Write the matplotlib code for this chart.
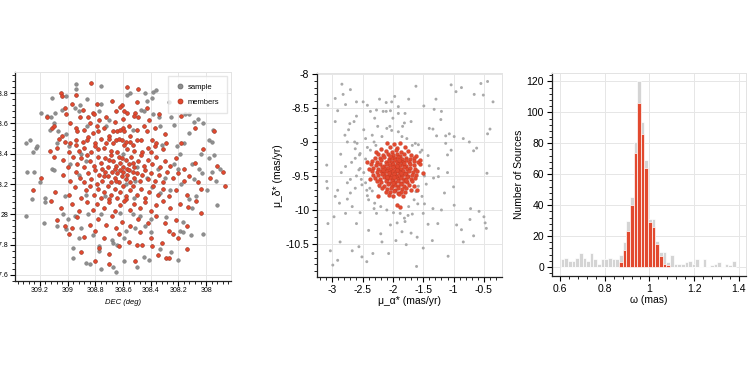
import numpy as np
import matplotlib
matplotlib.use("Agg")
import matplotlib.pyplot as plt
from matplotlib.ticker import AutoMinorLocator, FuncFormatter, MultipleLocator
from matplotlib.lines import Line2D

# ---------------- Panel 1: sky positions ----------------
members_pos = [
    (308.83,28.87),(308.57,28.84),(308.49,28.83),(309.05,28.80),(309.04,28.78),(308.94,28.79),
    (308.97,28.73),(308.79,28.73),(308.68,28.75),(308.61,28.72),(308.62,28.71),(308.50,28.74),(309.02,28.70),(308.89,28.69),(308.65,28.68),(308.59,28.68),(308.43,28.70),
    (308.82,28.67),(308.81,28.66),(308.57,28.67),(308.51,28.67),(309.15,28.64),(309.01,28.66),(308.91,28.64),(308.85,28.64),(308.77,28.62),(308.72,28.64),(308.66,28.61),(308.52,28.65),(308.49,28.64),(308.34,28.66),(308.18,28.65),(308.60,28.63),(308.41,28.62),
    (309.11,28.57),(309.10,28.58),(308.98,28.60),(309.04,28.52),(308.94,28.57),(308.93,28.55),(308.88,28.56),(308.84,28.60),(308.82,28.54),(308.79,28.58),(308.78,28.55),(308.74,28.57),(308.67,28.55),(308.64,28.55),(308.62,28.56),(308.60,28.57),(308.59,28.55),(308.56,28.58),(308.50,28.56),(308.45,28.58),(308.43,28.55),(308.37,28.57),(308.08,28.57),(307.94,28.55),(308.70,28.52),(308.55,28.52),(308.30,28.53),(308.85,28.51),
    (309.06,28.50),(309.08,28.44),(309.02,28.48),(308.98,28.47),(308.94,28.49),(308.94,28.46),(308.89,28.48),(308.86,28.49),(308.88,28.44),(308.80,28.47),(308.76,28.50),(308.72,28.47),(308.70,28.50),(308.67,28.47),(308.65,28.49),(308.63,28.50),(308.61,28.49),(308.59,28.46),(308.55,28.48),(308.53,28.46),(308.50,28.49),(308.47,28.49),(308.42,28.44),(308.39,28.49),(308.37,28.45),(308.36,28.47),(308.31,28.43),(308.29,28.47),(308.18,28.47),(309.13,28.42),(308.99,28.41),(308.92,28.42),(308.83,28.41),(308.78,28.43),(308.74,28.44),(308.69,28.42),(308.64,28.41),(308.57,28.43),(308.52,28.42),(308.46,28.41),(308.40,28.41),(308.02,28.43),(308.80,28.45),(308.58,28.48),
    (309.10,28.38),(309.03,28.36),(308.96,28.38),(308.93,28.33),(308.90,28.37),(308.86,28.39),(308.84,28.35),(308.81,28.32),(308.78,28.38),(308.76,28.34),(308.73,28.37),(308.71,28.31),(308.69,28.39),(308.67,28.35),(308.65,28.32),(308.63,28.38),(308.62,28.34),(308.60,28.31),(308.58,28.36),(308.56,28.33),(308.54,28.38),(308.52,28.31),(308.49,28.35),(308.47,28.39),(308.45,28.32),(308.42,28.36),(308.39,28.33),(308.36,28.38),(308.33,28.31),(308.30,28.35),(308.26,28.32),(308.22,28.37),(308.16,28.30),(308.08,28.34),(307.92,28.32),(309.00,28.31),(308.88,28.31),(308.75,28.30),(308.66,28.30),(308.57,28.30),(308.70,28.36),(308.61,28.37),(308.53,28.34),
    (309.19,28.24),(309.03,28.26),(308.98,28.22),(308.94,28.28),(308.91,28.24),(308.88,28.21),(308.85,28.27),(308.83,28.23),(308.80,28.29),(308.79,28.20),(308.77,28.26),(308.75,28.22),(308.73,28.28),(308.71,28.25),(308.69,28.21),(308.68,28.28),(308.66,28.24),(308.64,28.27),(308.63,28.21),(308.61,28.25),(308.60,28.28),(308.58,28.23),(308.57,28.26),(308.55,28.21),(308.53,28.28),(308.52,28.24),(308.50,28.27),(308.48,28.22),(308.46,28.26),(308.44,28.29),(308.42,28.23),(308.40,28.27),(308.37,28.22),(308.34,28.26),(308.31,28.21),(308.28,28.28),(308.24,28.24),(308.20,28.27),(308.16,28.22),(308.12,28.25),(308.06,28.21),(307.97,28.24),(307.88,28.28),(308.62,28.29),(308.56,28.29),(308.65,28.22),(308.74,28.25),
    (309.25,28.16),(309.09,28.15),(308.99,28.13),(308.95,28.18),(308.90,28.11),(308.87,28.16),(308.84,28.19),(308.81,28.13),(308.78,28.17),(308.76,28.11),(308.74,28.15),(308.71,28.19),(308.69,28.13),(308.66,28.17),(308.64,28.11),(308.62,28.15),(308.60,28.19),(308.58,28.12),(308.55,28.16),(308.53,28.19),(308.50,28.13),(308.47,28.17),(308.44,28.11),(308.41,28.15),(308.38,28.19),(308.35,28.13),(308.31,28.17),(308.27,28.12),(308.22,28.16),(308.14,28.13),(308.04,28.17),(307.86,28.19),(308.70,28.10),(308.58,28.10),
    (309.12,28.09),(309.05,28.04),(308.97,28.07),(308.92,28.02),(308.86,28.08),(308.82,28.03),(308.79,28.07),(308.74,28.04),(308.70,28.08),(308.66,28.02),(308.62,28.06),(308.59,28.09),(308.55,28.03),(308.52,28.07),(308.48,28.04),(308.44,28.08),(308.40,28.02),(308.36,28.06),(308.31,28.09),(308.26,28.04),(308.19,28.07),(308.13,28.05),(308.04,28.01),(308.07,28.09),
    (309.08,27.96),(309.02,27.92),(308.93,27.98),(308.84,27.93),(308.78,27.97),(308.72,27.93),(308.68,27.99),(308.61,27.95),(308.55,27.92),(308.49,27.97),(308.42,27.94),(308.36,27.99),(308.30,27.94),(308.22,27.96),(308.14,27.92),(308.97,27.91),(308.65,27.91),
    (308.99,27.87),(308.88,27.85),(308.80,27.89),(308.74,27.84),(308.63,27.87),(308.56,27.82),(308.48,27.88),(308.40,27.84),(308.27,27.89),(308.24,27.87),(308.20,27.84),(308.32,27.81),
    (308.77,27.78),(308.63,27.79),(308.50,27.80),(308.46,27.80),(308.39,27.79),(308.14,27.77),(308.35,27.73),(308.90,27.75),(308.70,27.74),
    (308.80,27.69),(308.70,27.67),(308.51,27.69),(308.29,27.71),(308.27,27.71),
]
field_pos = [
    (308.94,28.86),(308.94,28.83),(308.76,28.85),(308.55,28.80),(308.57,28.79),(308.44,28.80),(308.38,28.81),(308.36,28.82),(308.39,28.77),(309.11,28.77),(309.01,28.78),(308.86,28.76),(308.91,28.72),(308.76,28.73),(308.43,28.75),(308.27,28.74),(309.04,28.69),(308.95,28.70),(308.92,28.68),(308.77,28.68),(308.47,28.69),(308.45,28.68),(309.19,28.67),(309.15,28.65),(309.12,28.64),(309.09,28.67),(308.70,28.62),(308.38,28.66),(308.34,28.64),(308.25,28.64),(308.15,28.66),(308.12,28.66),(308.09,28.61),(308.06,28.63),
    (309.10,28.60),(309.13,28.56),(309.07,28.55),(309.01,28.53),(308.86,28.58),(308.72,28.58),(308.53,28.56),(308.33,28.58),(308.23,28.59),(308.02,28.60),(308.12,28.54),(307.95,28.56),(307.98,28.49),(307.96,28.48),
    (309.30,28.47),(309.27,28.49),(309.25,28.41),(309.23,28.44),(309.22,28.45),(309.08,28.47),(308.99,28.45),(308.32,28.46),(308.21,28.45),(308.16,28.47),(308.19,28.40),(308.04,28.40),(307.94,28.39),(308.90,28.40),(308.60,28.40),
    (309.29,28.28),(309.24,28.28),(309.11,28.30),(309.10,28.29),(308.98,28.33),(308.87,28.35),(308.50,28.31),(308.35,28.30),(308.23,28.33),(308.20,28.30),(308.10,28.33),(308.05,28.30),(307.98,28.37),(307.96,28.28),(307.90,28.30),
    (309.20,28.21),(308.92,28.26),(308.58,28.20),(308.51,28.22),(308.43,28.24),(308.39,28.18),(308.30,28.24),(308.18,28.20),(308.09,28.23),(308.03,28.27),(307.93,28.22),(307.99,28.16),
    (309.26,28.10),(309.16,28.11),(309.16,28.08),(309.02,28.12),(308.87,28.13),(308.73,28.12),(308.52,28.11),(308.33,28.14),(308.26,28.16),(308.12,28.10),(308.10,28.04),(308.07,28.12),(307.92,28.06),
    (309.30,27.99),(309.03,28.00),(309.00,27.97),(308.95,27.99),(308.85,28.00),(308.76,28.00),(308.62,28.01),(308.53,28.00),(308.48,27.99),(308.40,27.97),(308.29,27.98),(308.17,27.95),
    (309.17,27.94),(309.08,27.92),(309.01,27.90),(308.90,27.91),(308.58,27.89),(308.51,27.91),(308.44,27.92),(308.19,27.89),(308.17,27.88),(308.02,27.87),
    (308.92,27.84),(308.82,27.86),(308.68,27.83),(308.59,27.84),(308.40,27.88),(308.11,27.86),
    (308.96,27.78),(308.77,27.79),(308.77,27.76),(308.67,27.81),(308.64,27.80),(308.45,27.72),(308.25,27.75),(308.33,27.77),
    (308.96,27.71),(308.87,27.68),(308.84,27.67),(308.76,27.64),(308.67,27.65),(308.65,27.62),(308.59,27.69),(308.50,27.65),(308.41,27.70),(308.20,27.70),
]

# ---------------- Panel 2: proper motions ----------------
field_pm = [
    (-2.84,-8.15),(-2.82,-8.30),(-2.70,-8.23),(-2.95,-8.36),(-3.07,-8.46),(-2.91,-8.54),(-2.78,-8.45),(-2.60,-8.41),(-2.49,-8.41),(-2.42,-8.46),(-2.37,-8.55),(-2.27,-8.53),(-2.22,-8.37),(-2.11,-8.42),(-2.02,-8.41),(-1.97,-8.33),(-2.11,-8.55),(-2.16,-8.55),(-2.04,-8.54),(-1.91,-8.48),(-1.91,-8.58),(-1.80,-8.58),(-1.62,-8.18),(-1.74,-8.37),(-1.49,-8.47),(-1.32,-8.52),(-1.29,-8.37),(-1.21,-8.67),(-1.34,-8.81),(-1.28,-8.91),(-1.13,-8.91),(-1.07,-8.88),(-1.13,-9.02),(-1.10,-9.19),(-1.04,-9.12),(-0.99,-8.92),(-1.04,-8.16),(-0.96,-8.26),(-0.87,-8.20),(-0.66,-8.30),(-0.55,-8.14),(-0.44,-8.11),(-0.51,-8.31),(-0.35,-8.41),(-0.44,-8.88),(-0.40,-8.81),(-0.84,-8.95),(-0.74,-9.00),(-0.62,-9.09),(-0.67,-9.13),(-0.45,-9.46),(-1.00,-9.66),(-0.99,-9.93),(-0.72,-9.98),(-0.73,-10.14),(-0.58,-10.02),(-0.50,-10.10),(-0.48,-10.19),(-0.46,-10.27),(-0.95,-10.22),(-0.87,-10.29),(-0.84,-10.47),(-0.67,-10.38),(-1.09,-10.68),(-1.50,-10.56),(-1.61,-10.83),(-1.78,-10.51),(-1.70,-10.34),(-1.85,-10.32),(-1.93,-10.19),(-1.80,-10.17),(-1.68,-10.06),(-1.59,-9.91),(-1.48,-9.91),(-1.50,-10.05),(-1.42,-10.21),(-1.34,-9.98),(-1.26,-10.20),(-1.25,-9.51),(-1.33,-9.53),(-1.25,-9.39),(-1.40,-9.35),(-1.99,-10.04),(-2.04,-10.22),(-2.07,-10.64),(-2.18,-10.47),(-2.33,-10.64),(-2.43,-10.76),(-2.51,-10.69),(-2.56,-10.54),(-2.67,-10.60),(-2.87,-10.47),(-2.91,-10.74),(-2.99,-10.81),(-3.03,-10.60),(-3.07,-10.20),(-2.97,-10.10),(-2.78,-10.05),(-2.67,-9.95),(-2.54,-10.04),(-2.31,-9.98),(-2.27,-10.05),(-3.08,-9.68),(-3.09,-9.58),(-3.09,-9.34),(-2.91,-9.71),(-2.95,-9.80),(-2.75,-9.84),(-2.70,-9.75),(-2.62,-9.68),(-2.51,-9.63),(-2.43,-9.71),(-2.42,-9.79),(-2.34,-9.72),(-2.75,-9.60),(-2.70,-9.55),(-2.60,-9.50),(-2.56,-9.41),(-2.78,-9.36),(-2.62,-9.24),(-2.54,-9.17),(-2.42,-9.08),(-2.37,-9.12),(-2.54,-9.39),(-2.55,-9.19),(-2.86,-9.18),(-2.75,-9.00),(-2.63,-9.00),(-2.59,-9.02),(-2.79,-8.90),(-2.73,-8.82),(-2.71,-8.73),(-2.64,-8.70),(-2.48,-8.82),(-2.31,-9.00),(-2.34,-8.90),(-2.10,-8.80),(-2.05,-8.77),(-2.02,-8.83),(-1.91,-8.85),(-1.84,-8.77),(-1.81,-8.72),(-1.85,-8.92),(-1.77,-8.95),(-1.63,-9.02),(-1.58,-9.04),(-1.52,-9.12),(-2.18,-8.92),(-2.25,-8.77),(-1.92,-9.93),(-1.81,-10.12),(-1.74,-9.95),(-1.62,-9.73),(-1.58,-9.65),(-2.26,-9.35),(-2.22,-9.66),
    (-2.45,-9.25),(-2.48,-9.45),(-2.45,-9.60),(-2.38,-9.68),(-2.52,-9.55),(-2.40,-9.85),(-2.30,-9.90),(-2.20,-9.95),(-2.10,-10.00),(-1.88,-10.05),(-1.75,-10.08),(-1.65,-9.85),(-1.52,-9.80),(-1.45,-9.62),(-1.48,-9.50),(-1.42,-9.20),(-1.55,-9.15),(-1.68,-9.05),(-2.28,-9.05),(-2.45,-8.95),(-2.62,-9.10),(-2.68,-9.30),(-2.85,-9.45),(-2.88,-9.90),(-2.60,-10.20),(-2.40,-10.30),(-2.20,-10.35),(-1.95,-10.45),(-1.60,-10.40),(-1.35,-10.45),(-1.20,-10.00),(-1.15,-9.75),(-1.10,-9.45),(-2.95,-8.70),(-2.60,-8.62),(-2.30,-8.65),(-1.70,-8.70),(-1.40,-8.80),(-1.20,-8.55),(-2.00,-8.65),
]
members_pm = [
    (-2.10,-9.02),(-1.98,-9.03),(-1.88,-9.01),
    (-2.05,-9.07),(-1.93,-9.09),(-1.80,-9.08),(-2.20,-9.10),
    (-2.12,-9.13),(-2.02,-9.14),(-1.95,-9.12),(-1.86,-9.15),(-1.75,-9.13),(-2.28,-9.15),
    (-2.25,-9.18),(-2.16,-9.19),(-2.08,-9.17),(-2.00,-9.19),(-1.93,-9.17),(-1.88,-9.20),(-1.82,-9.18),(-1.70,-9.19),(-1.62,-9.21),
    (-2.30,-9.23),(-2.22,-9.24),(-2.14,-9.22),(-2.07,-9.25),(-2.01,-9.23),(-1.96,-9.24),(-1.91,-9.22),(-1.85,-9.25),(-1.78,-9.23),(-1.72,-9.25),(-1.65,-9.24),
    (-2.34,-9.28),(-2.26,-9.29),(-2.19,-9.27),(-2.12,-9.30),(-2.06,-9.28),(-2.02,-9.29),(-1.97,-9.27),(-1.93,-9.30),(-1.89,-9.28),(-1.84,-9.29),(-1.79,-9.27),(-1.73,-9.30),(-1.66,-9.28),(-1.58,-9.29),
    (-2.36,-9.33),(-2.28,-9.34),(-2.21,-9.32),(-2.15,-9.35),(-2.10,-9.33),(-2.05,-9.34),(-2.00,-9.32),(-1.96,-9.35),(-1.92,-9.33),(-1.88,-9.34),(-1.83,-9.32),(-1.78,-9.35),(-1.72,-9.33),(-1.65,-9.34),(-1.55,-9.33),
    (-2.32,-9.38),(-2.24,-9.39),(-2.18,-9.37),(-2.12,-9.40),(-2.08,-9.38),(-2.03,-9.39),(-1.99,-9.37),(-1.95,-9.40),(-1.91,-9.38),(-1.87,-9.39),(-1.82,-9.37),(-1.77,-9.40),(-1.71,-9.38),(-1.63,-9.39),(-2.40,-9.40),
    (-2.35,-9.43),(-2.27,-9.44),(-2.20,-9.42),(-2.14,-9.45),(-2.09,-9.43),(-2.04,-9.44),(-2.00,-9.42),(-1.96,-9.45),(-1.92,-9.43),(-1.88,-9.44),(-1.84,-9.42),(-1.79,-9.45),(-1.74,-9.43),(-1.67,-9.44),(-1.60,-9.42),
    (-2.33,-9.48),(-2.25,-9.49),(-2.18,-9.47),(-2.12,-9.50),(-2.07,-9.48),(-2.02,-9.49),(-1.98,-9.47),(-1.94,-9.50),(-1.90,-9.48),(-1.85,-9.49),(-1.80,-9.47),(-1.75,-9.50),(-1.69,-9.48),(-1.62,-9.49),
    (-2.30,-9.53),(-2.22,-9.54),(-2.15,-9.52),(-2.09,-9.55),(-2.04,-9.53),(-1.99,-9.54),(-1.95,-9.52),(-1.91,-9.55),(-1.86,-9.53),(-1.81,-9.54),(-1.76,-9.52),(-1.70,-9.55),(-1.64,-9.53),
    (-2.27,-9.58),(-2.19,-9.59),(-2.12,-9.57),(-2.06,-9.60),(-2.01,-9.58),(-1.96,-9.59),(-1.92,-9.57),(-1.87,-9.60),(-1.82,-9.58),(-1.76,-9.59),(-1.68,-9.57),
    (-2.23,-9.63),(-2.15,-9.64),(-2.08,-9.62),(-2.02,-9.65),(-1.97,-9.63),(-1.92,-9.64),(-1.87,-9.62),(-1.81,-9.65),(-1.74,-9.63),(-1.66,-9.64),
    (-2.18,-9.68),(-2.10,-9.69),(-2.03,-9.67),(-1.97,-9.70),(-1.91,-9.68),(-1.85,-9.69),(-1.78,-9.67),(-1.70,-9.70),
    (-2.12,-9.73),(-2.05,-9.74),(-1.98,-9.72),(-1.92,-9.75),(-1.86,-9.73),(-1.80,-9.74),
    (-2.07,-9.78),(-1.99,-9.79),(-1.90,-9.77),(-1.83,-9.79),
    (-1.93,-9.92),(-1.88,-9.96),(-2.24,-9.80),(-1.60,-9.70),(-1.55,-9.27),(-2.38,-9.55),(-2.42,-9.30),(-1.50,-9.45),
    (-2.05,-9.21),(-1.90,-9.26),(-1.81,-9.31),(-2.16,-9.41),(-2.06,-9.46),(-1.86,-9.46),(-1.94,-9.36),(-2.10,-9.52),(-1.78,-9.56),(-2.00,-9.61),(-1.94,-9.41),(-1.98,-9.51),
]

# ---------------- Panel 3: parallax histogram ----------------
plx_bin_start = 0.603
plx_bin_width = 0.0163
sample_counts = [5, 6, 4, 4, 6, 9, 6, 4, 9, 5, 2, 5, 5, 6, 5, 5,
                 8, 16, 30, 45, 81, 120, 94, 69, 31, 31, 17, 10, 10, 3,
                 8, 2, 2, 2, 3, 4, 2, 5, 0, 5, 0, 1, 2, 3, 0, 2, 1, 4]
member_counts = [0]*16 + [3, 11, 23, 40, 74, 106, 86, 64, 29, 26, 15, 7, 2, 1] + [0]*18

RED = "#e2492f"
RED_EDGE = "#b8321c"
GREY = "#8e8e8e"
GRID = "#e6e6e6"

plt.rcParams['font.family'] = ['Liberation Sans', 'DejaVu Sans']
fig = plt.figure(figsize=(7.5, 3.75), dpi=100)

def style(ax, lab_size, pad=2):
    ax.grid(True, color=GRID, lw=0.7, zorder=0)
    ax.set_axisbelow(True)
    for s in ['top', 'right']:
        ax.spines[s].set_color('#e3e3e3')
        ax.spines[s].set_linewidth(0.7)
    for s in ['left', 'bottom']:
        ax.spines[s].set_color('#222222')
        ax.spines[s].set_linewidth(0.9)
    ax.xaxis.set_minor_locator(AutoMinorLocator(5))
    ax.yaxis.set_minor_locator(AutoMinorLocator(5))
    ax.tick_params(which='major', direction='out', length=3.5, width=0.8, labelsize=lab_size,
                   top=False, right=False, pad=pad)
    ax.tick_params(which='minor', direction='out', length=2, width=0.6, top=False, right=False)

fmt = FuncFormatter(lambda v, p: '%g' % round(v, 6))

# Panel 1
ax1 = fig.add_axes([0.02, 0.251, 0.288, 0.557])
style(ax1, 5, pad=1.2)
fx = [p[0] for p in field_pos] + [p[0] for p in members_pos]
fy = [p[1] for p in field_pos] + [p[1] for p in members_pos]
ax1.scatter(fx, fy, s=7, c=GREY, edgecolors='#6f6f6f', linewidths=0.3, zorder=2)
ax1.scatter([p[0] for p in members_pos], [p[1] for p in members_pos], s=7, c=RED,
            edgecolors=RED_EDGE, linewidths=0.3, zorder=3)
ax1.set_xlim(309.38, 307.82)
ax1.set_ylim(27.56, 28.94)
ax1.xaxis.set_major_locator(MultipleLocator(0.2))
ax1.yaxis.set_major_locator(MultipleLocator(0.2))
ax1.xaxis.set_major_formatter(fmt)
ax1.yaxis.set_major_formatter(fmt)
ax1.set_xlabel('DEC (deg)', fontsize=5.5, style='italic', labelpad=3)
ax1.set_ylabel('RA (deg)', fontsize=5.5, style='italic')
handles = [Line2D([], [], ls='', marker='o', ms=3.5, mfc=GREY, mec='#6f6f6f', mew=0.6),
           Line2D([], [], ls='', marker='o', ms=3.5, mfc=RED, mec=RED_EDGE, mew=0.6)]
ax1.legend(handles, ['sample', 'members'], loc='upper right', fontsize=5.5, frameon=True,
           edgecolor='#e0e0e0', fancybox=False, borderpad=1.0, labelspacing=1.0,
           handletextpad=0.6, handlelength=1.0, borderaxespad=0.5)

# Panel 2
ax2 = fig.add_axes([0.4227, 0.2605, 0.246, 0.544])
style(ax2, 7.5)
px = [p[0] for p in field_pm]
py = [p[1] for p in field_pm]
ax2.scatter(px, py, s=4.5, c='#a9a9a9', edgecolors='none', zorder=2)
ax2.scatter([p[0] for p in members_pm], [p[1] for p in members_pm], s=8, c=RED,
            edgecolors=RED_EDGE, linewidths=0.2, zorder=3)
ax2.set_xlim(-3.25, -0.21)
ax2.set_ylim(-10.99, -7.99)
ax2.xaxis.set_major_locator(MultipleLocator(0.5))
ax2.yaxis.set_major_locator(MultipleLocator(0.5))
ax2.xaxis.set_major_formatter(fmt)
ax2.yaxis.set_major_formatter(fmt)
ax2.set_xlabel('μ_α* (mas/yr)', fontsize=7.5, labelpad=1)
ax2.set_ylabel('μ_δ* (mas/yr)', fontsize=7.5, labelpad=2)

# Panel 3
ax3 = fig.add_axes([0.7356, 0.264, 0.259, 0.542])
style(ax3, 7.5)
lefts = [plx_bin_start + i * plx_bin_width for i in range(len(sample_counts))]
ax3.bar(lefts, sample_counts, width=plx_bin_width, align='edge', color='#d4d4d4',
        edgecolor='white', linewidth=0.5, zorder=2)
ax3.bar(lefts, member_counts, width=plx_bin_width, align='edge', color=RED,
        edgecolor='white', linewidth=0.5, zorder=3)
ax3.set_xlim(0.563, 1.432)
ax3.set_ylim(-5.8, 125.6)
ax3.xaxis.set_major_locator(MultipleLocator(0.2))
ax3.yaxis.set_major_locator(MultipleLocator(20))
ax3.xaxis.set_major_formatter(fmt)
ax3.set_xlabel('ω (mas)', fontsize=7.5, labelpad=1)
ax3.set_ylabel('Number of Sources', fontsize=7.5, labelpad=2)

fig.savefig('out.png', dpi=100)
